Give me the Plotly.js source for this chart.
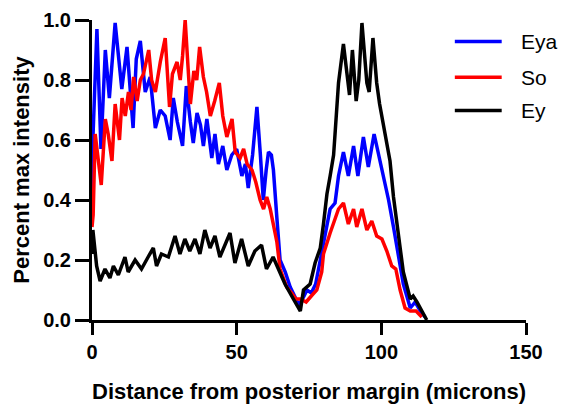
<!DOCTYPE html>
<html><head><meta charset="utf-8">
<script src="https://cdn.plot.ly/plotly-3.0.1.min.js"></script>
<style>html,body{margin:0;padding:0;background:#fff}#chart{width:561px;height:408px}</style>
</head><body><div id="chart"></div>
<script>
// ---- data ----
const seriesNames = ["Eya", "So", "Ey"];
const seriesColors = ["#0000FF", "#FF0000", "#000000"];

const eyaX = [0, 0.3, 1.7, 3.1, 4.6, 6.0, 8.0, 10.3, 12.1, 14.2, 15.3, 16.7, 18.4, 20.1, 21.9, 23.6, 25.3, 27.0, 28.1, 29.5, 31.3, 32.6, 34.0, 35.0, 36.3, 37.5, 38.5, 39.7, 41.4, 42.5, 43.7, 45.2, 46.6, 48.3, 50.0, 51.8, 53.0, 54.0, 55.5, 57.0, 58.2, 59.2, 60.2, 61.0, 62.0, 62.7, 63.9, 65.0, 66.8, 68.5, 70.0, 71.4, 72.8, 74.3, 75.8, 77.3, 78.9, 80.6, 82.3, 84.0, 85.2, 86.9, 88.6, 90.4, 91.9, 93.8, 95.5, 97.5, 99.6, 100.7, 102.5, 104.2, 105.9, 107.6, 110.0, 111.7, 113.5, 115.1];
const eyaY = [0.35, 0.60, 0.97, 0.57, 0.90, 0.74, 0.99, 0.77, 0.91, 0.64, 0.87, 0.93, 0.76, 0.81, 0.64, 0.70, 0.68, 0.60, 0.74, 0.66, 0.58, 0.78, 0.66, 0.59, 0.69, 0.65, 0.58, 0.67, 0.54, 0.62, 0.52, 0.58, 0.50, 0.55, 0.57, 0.48, 0.52, 0.44, 0.55, 0.71, 0.55, 0.40, 0.50, 0.56, 0.55, 0.50, 0.34, 0.20, 0.16, 0.11, 0.08, 0.05, 0.07, 0.10, 0.09, 0.12, 0.20, 0.28, 0.37, 0.39, 0.48, 0.56, 0.48, 0.58, 0.48, 0.61, 0.51, 0.62, 0.53, 0.47, 0.40, 0.31, 0.22, 0.12, 0.04, 0.06, 0.03, 0.01];

const soX = [0, 0.4, 1.1, 2.3, 3.2, 4.6, 5.6, 6.9, 8.0, 9.5, 10.4, 11.5, 12.6, 13.5, 14.4, 15.6, 16.7, 17.8, 19.6, 20.6, 21.9, 23.6, 25.3, 26.8, 27.8, 29.4, 30.5, 31.3, 32.2, 33.4, 34.0, 35.2, 36.2, 37.2, 38.5, 39.6, 40.9, 42.4, 44.0, 45.2, 46.6, 48.4, 49.5, 51.2, 52.4, 53.6, 55.3, 56.6, 58.1, 59.3, 60.4, 61.6, 62.7, 63.9, 65.0, 67.3, 69.0, 70.5, 72.0, 74.0, 75.8, 77.7, 79.4, 80.0, 82.3, 84.0, 85.2, 86.9, 88.6, 90.4, 91.5, 93.3, 95.0, 96.7, 98.4, 100.2, 101.9, 103.6, 105.0, 106.5, 108.2, 110.0, 112.0, 114.0];
const soY = [0.31, 0.35, 0.62, 0.51, 0.45, 0.67, 0.62, 0.53, 0.72, 0.60, 0.74, 0.68, 0.76, 0.70, 0.81, 0.73, 0.80, 0.82, 0.90, 0.80, 0.76, 0.86, 0.94, 0.71, 0.82, 0.86, 0.80, 0.88, 1.00, 0.81, 0.72, 0.83, 0.80, 0.91, 0.81, 0.76, 0.68, 0.73, 0.79, 0.68, 0.61, 0.67, 0.56, 0.54, 0.57, 0.52, 0.50, 0.46, 0.40, 0.37, 0.41, 0.37, 0.31, 0.26, 0.17, 0.11, 0.09, 0.07, 0.07, 0.06, 0.08, 0.10, 0.16, 0.22, 0.29, 0.34, 0.37, 0.39, 0.32, 0.37, 0.31, 0.37, 0.30, 0.33, 0.28, 0.27, 0.23, 0.18, 0.17, 0.10, 0.04, 0.03, 0.03, 0.01];

const eyX = [0, 0.3, 1.6, 2.8, 4.5, 6.2, 7.4, 9.1, 11.4, 12.5, 14.9, 17.1, 19.4, 21.2, 22.3, 24.0, 26.4, 28.7, 30.4, 32.1, 33.8, 35.6, 37.3, 39.0, 40.8, 42.5, 44.2, 45.9, 47.7, 49.4, 51.7, 54.0, 56.3, 58.6, 60.3, 62.6, 64.4, 66.7, 69.6, 72.0, 73.1, 75.4, 77.1, 78.9, 80.0, 81.2, 82.3, 83.5, 84.0, 85.2, 86.9, 88.0, 89.0, 90.0, 91.3, 92.2, 93.3, 95.0, 95.8, 97.1, 98.4, 99.4, 101.3, 103.0, 104.2, 105.9, 107.6, 110.0, 111.0, 112.3, 113.5, 115.7];
const eyY = [0.22, 0.30, 0.18, 0.13, 0.17, 0.14, 0.18, 0.15, 0.21, 0.16, 0.20, 0.17, 0.21, 0.24, 0.18, 0.22, 0.21, 0.28, 0.22, 0.27, 0.23, 0.27, 0.22, 0.30, 0.24, 0.28, 0.21, 0.25, 0.29, 0.19, 0.27, 0.18, 0.23, 0.25, 0.17, 0.21, 0.17, 0.12, 0.07, 0.03, 0.10, 0.12, 0.19, 0.24, 0.32, 0.42, 0.48, 0.55, 0.62, 0.79, 0.92, 0.84, 0.75, 0.90, 0.73, 0.80, 0.99, 0.79, 0.76, 0.94, 0.79, 0.72, 0.62, 0.53, 0.41, 0.28, 0.16, 0.07, 0.08, 0.06, 0.04, 0.00];

const xTicks = [0, 50, 100, 150];
const yTicks = [0.0, 0.2, 0.4, 0.6, 0.8, 1.0];
const yTickText = ["0.0", "0.2", "0.4", "0.6", "0.8", "1.0"];

// ---- chart ----
const xs = [eyaX, soX, eyX];
const ys = [eyaY, soY, eyY];
const traces = seriesNames.map((n, i) => ({
  type: "scatter", mode: "lines", name: n, x: xs[i], y: ys[i],
  line: {color: seriesColors[i], width: 3.5}, showlegend: false
}));

const FONT = "Liberation Sans, Arial, sans-serif";
// custom legend (paper coords)
const legY = [0.928, 0.809, 0.698];
const shapes = seriesNames.map((n, i) => ({
  type: "line", xref: "paper", yref: "paper", x0: 0.836, x1: 0.944, y0: legY[i], y1: legY[i],
  line: {color: seriesColors[i], width: 3.5}
}));
const annotations = seriesNames.map((n, i) => ({
  xref: "paper", yref: "paper", x: 0.985, y: legY[i], xanchor: "left", yanchor: "middle",
  text: n, showarrow: false, font: {family: FONT, size: 21, color: "#000"}
}));

const layout = {
  width: 561, height: 408,
  margin: {l: 92, r: 35, t: 20, b: 88},
  paper_bgcolor: "#fff", plot_bgcolor: "#fff",
  font: {family: FONT, color: "#000"},
  xaxis: {
    range: [0, 150], tickvals: xTicks, ticktext: xTicks.map(String),
    showline: true, linewidth: 3, linecolor: "#000", mirror: false,
    ticks: "outside", ticklen: 12, tickwidth: 3, tickcolor: "#000",
    showgrid: false, zeroline: false,
    tickfont: {family: FONT, size: 20, weight: "bold"},
    title: {text: "Distance from posterior margin (microns)", font: {family: FONT, size: 22, weight: "bold"}, standoff: 22},
    automargin: false
  },
  yaxis: {
    range: [0, 1.0], tickvals: yTicks, ticktext: yTickText,
    showline: true, linewidth: 3, linecolor: "#000",
    ticks: "outside", ticklen: 14, tickwidth: 3, tickcolor: "#000",
    showgrid: false, zeroline: false,
    tickfont: {family: FONT, size: 20, weight: "bold"},
    title: {text: "Percent max intensity", font: {family: FONT, size: 22, weight: "bold"}, standoff: 8},
    automargin: false
  },
  shapes: shapes,
  annotations: annotations,
  showlegend: false
};

Plotly.newPlot("chart", traces, layout, {displayModeBar: false, staticPlot: true});
</script>
</body></html>
